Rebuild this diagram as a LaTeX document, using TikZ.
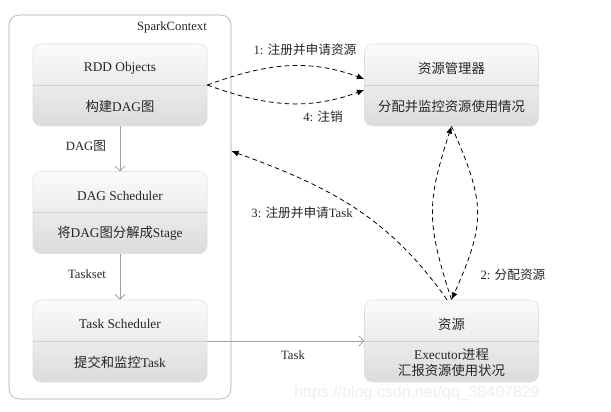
\documentclass[tikz,border=0pt]{standalone}
\usepackage{fontspec}
\setmainfont{Liberation Serif}
\newfontfamily\zh{Noto Sans CJK SC}
\newfontfamily\wmfont{Liberation Sans}
\usetikzlibrary{arrows.meta,positioning,calc}

\begin{document}
\begin{tikzpicture}[
  x=0.75pt, y=0.75pt,
  font=\fontsize{10}{12}\selectfont, text=black!85,
  ctx/.style={draw=gray!70, rounded corners=7.5pt, minimum width=166.5pt, minimum height=288pt, inner sep=0pt},
  box/.style={draw=gray!25, rounded corners=6pt, top color=gray!3, bottom color=gray!28, minimum width=130.5pt, minimum height=61.5pt, inner sep=0pt},
  sep/.style={draw=gray!35, line width=0.5pt},
  lbl/.style={font=\fontsize{9.5}{11}\selectfont, inner sep=1pt},
  arr/.style={draw=gray!75, line width=0.6pt, -{Straight Barb[length=3.5pt,width=7.5pt]}},
  darr/.style={dash pattern=on 3.5pt off 2.5pt, line width=0.6pt, -{Latex[length=5.5pt,width=4.5pt]}}
]
\useasboundingbox (0,0) rectangle (611,411);

% SparkContext side
\node[ctx] (sc) at (120,204) {};
\node[lbl] (sclbl) at (172,384) {SparkContext};
\node[box] (rdd) at (120,326) {};
\node[box] (dag) at (120,198.5) {};
\node[box] (task) at (120,70) {};
\draw[sep] (rdd.west) -- (rdd.east);
\draw[sep] (dag.west) -- (dag.east);
\draw[sep] (task.west) -- (task.east);
\node (rddup) at ($(rdd.center)+(0,17)$) {RDD Objects};
\node (rddlo) at ($(rdd.center)+(0,-21)$) {{\zh 构建}DAG{\zh 图}};
\node (dagup) at ($(dag.center)+(0,17)$) {DAG Scheduler};
\node (daglo) at ($(dag.center)+(0,-21)$) {{\zh 将}DAG{\zh 图分解成}Stage};
\node (taskup) at ($(task.center)+(0,17)$) {Task Scheduler};
\node (tasklo) at ($(task.center)+(0,-21)$) {{\zh 提交和监控}Task};

% cluster side
\node[box] (rm) at (451.5,326) {};
\node[box] (res) at (451.5,70) {};
\draw[sep] (rm.west) -- (rm.east);
\draw[sep] (res.west) -- (res.east);
\node (rmup) at ($(rm.center)+(0,17)$) {\zh 资源管理器};
\node (rmlo) at ($(rm.center)+(0,-21)$) {\zh 分配并监控资源使用情况};
\node (resup) at ($(res.center)+(0,17)$) {\zh 资源};
\node[align=center] (reslo) at ($(res.center)+(0,-21.5)$) {Executor{\zh 进程}\\[0.5pt]{\zh 汇报资源使用状况}};

% solid arrows
\draw[arr] (rdd) -- (dag);
\draw[arr] (dag) -- (task);
\draw[arr] (task.east) -- (res.west);
\node[lbl] (l1) at (86,265) {DAG{\zh 图}};
\node[lbl] (l2) at (87,137) {Taskset};
\node[lbl] (l3) at (293,56) {Task};

% dashed arrows
\draw[darr] (rdd.east) to[out=20,in=160] ([yshift=4.5pt]rm.west);
\draw[darr] (rdd.east) to[out=-20,in=200] ([yshift=-3.75pt]rm.west);
\draw[darr] ([xshift=-3.4pt]res.north) to[out=125,in=-20] ([yshift=42pt]sc.east);
\draw[darr] (res.north) to[out=108,in=252,looseness=1.2] (rm.south);
\draw[darr] (rm.south) to[out=-66,in=66,looseness=1.25] (res.north);
\node[lbl] (d1) at (305,361) {1: {\zh 注册并申请资源}};
\node[lbl] (d4) at (323,294) {4: {\zh 注销}};
\node[lbl] (d3) at (302,198) {3: {\zh 注册并申请}Task};
\node[lbl] (d2) at (513,136) {2: {\zh 分配资源}};

\node[text=gray!13, font=\wmfont\fontsize{12}{14}\selectfont] (wm) at (417,18) {https://blog.csdn.net/qq\_38407829};
\end{tikzpicture}
\end{document}
